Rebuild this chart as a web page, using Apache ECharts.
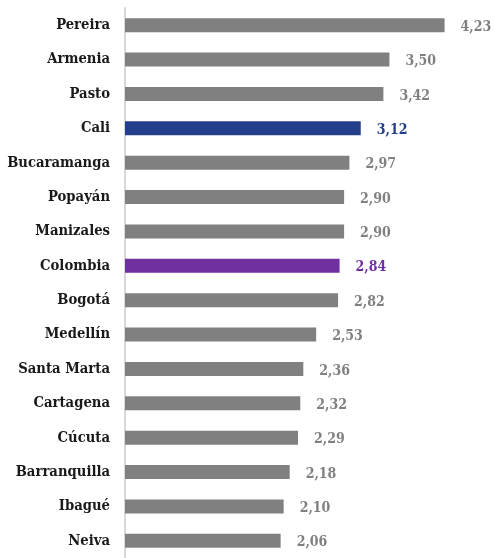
<!DOCTYPE html>
<html>
<head>
<meta charset="utf-8">
<script src="https://cdn.jsdelivr.net/npm/echarts@6/dist/echarts.min.js"></script>
<style>
  html, body { margin: 0; padding: 0; background: #fff; }
</style>
</head>
<body>
<div id="chart" style="width: 494px; height: 558px;"></div>
<script>
// ciudades, de arriba hacia abajo
const cities = ['Pereira', 'Armenia', 'Pasto', 'Cali', 'Bucaramanga', 'Popayán', 'Manizales', 'Colombia',
  'Bogotá', 'Medellín', 'Santa Marta', 'Cartagena', 'Cúcuta', 'Barranquilla', 'Ibagué', 'Neiva'];
const values = [4.23, 3.50, 3.42, 3.12, 2.97, 2.90, 2.90, 2.84, 2.82, 2.53, 2.36, 2.32, 2.29, 2.18, 2.10, 2.06];

const highlight = { 'Cali': '#233E8B', 'Colombia': '#7030A0' };
const gray = '#808080';
const font = '"DejaVu Serif Condensed", "DejaVu Serif", serif';

const myChart = echarts.init(document.getElementById('chart'));

const option = {
  animation: false,
  grid: {
    left: 125,
    right: 29,
    top: 8,
    height: 560,
  },
  xAxis: {
    type: 'value',
    min: 0,
    max: 4.5,
    show: false,
  },
  yAxis: {
    type: 'category',
    data: cities,
    inverse: true,
    axisLine: { show: true, lineStyle: { color: '#D9D9D9', width: 2 } },
    axisTick: { show: false },
    axisLabel: {
      margin: 15,
      color: '#1a1a1a',
      fontFamily: font,
      fontWeight: 'bold',
      fontSize: 14.7,
    },
  },
  series: [
    {
      type: 'bar',
      barWidth: 14,
      data: values.map((v, i) => ({
        value: v,
        itemStyle: { color: highlight[cities[i]] || gray },
        label: { color: highlight[cities[i]] || gray },
      })),
      label: {
        show: true,
        position: 'right',
        distance: 16,
        offset: [0, 2],
        fontFamily: font,
        fontWeight: 'bold',
        fontSize: 14,
        formatter: p => p.value.toFixed(2).replace('.', ','),
      },
    },
  ],
};

myChart.setOption(option, { notMerge: true });
</script>
</body>
</html>
